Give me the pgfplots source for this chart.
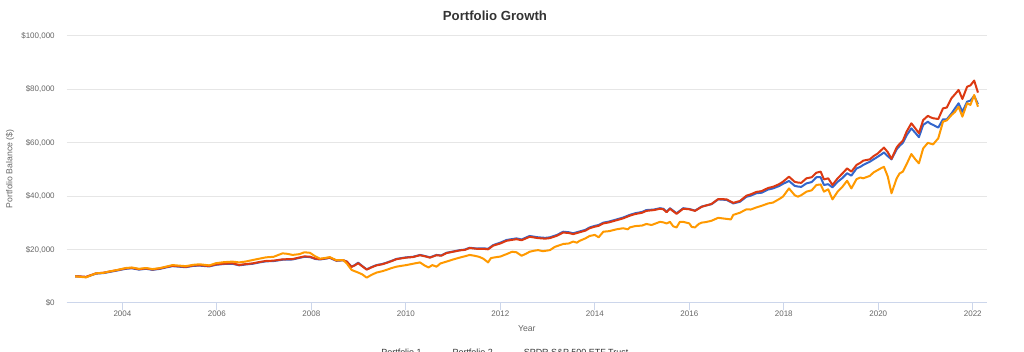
\documentclass[border=0pt]{standalone}
\usepackage{pgfplots}
\pgfplotsset{compat=1.18}
\usepackage{pgfplotstable}
\usepackage{fontspec}
\setmainfont{Liberation Sans}
\definecolor{pone}{HTML}{3366CC}
\definecolor{ptwo}{HTML}{DC3912}
\definecolor{spy}{HTML}{FF9900}
\definecolor{gridc}{HTML}{E6E6E6}
\definecolor{axisc}{HTML}{CCD6EB}
\definecolor{labc}{HTML}{666666}
\definecolor{titc}{HTML}{333333}

\pgfplotstableread{
x y
2003.00 10000
2003.10 9900
2003.23 9700
2003.44 11000
2003.60 11200
2003.72 11600
2003.90 12200
2004.07 12800
2004.20 13000
2004.35 12500
2004.50 12800
2004.64 12400
2004.80 12800
2004.92 13300
2005.06 13800
2005.20 13600
2005.34 13400
2005.50 13900
2005.63 14000
2005.84 13700
2005.98 14300
2006.15 14600
2006.33 14700
2006.47 14100
2006.60 14400
2006.76 14700
2006.90 15200
2007.04 15600
2007.20 15700
2007.39 16200
2007.60 16300
2007.75 16900
2007.85 17300
2007.97 17200
2008.08 16500
2008.18 16300
2008.30 16600
2008.39 16900
2008.53 15800
2008.67 16000
2008.75 15500
2008.85 13600
2008.92 14200
2008.99 15100
2009.08 13800
2009.17 12600
2009.28 13500
2009.38 14200
2009.50 14600
2009.59 15100
2009.70 15800
2009.80 16500
2009.90 16800
2010.01 17100
2010.15 17300
2010.30 18000
2010.40 17600
2010.51 17100
2010.65 18000
2010.75 17800
2010.86 18800
2011.00 19300
2011.14 19800
2011.25 20000
2011.35 20700
2011.50 20400
2011.64 20500
2011.74 20300
2011.85 21700
2012.00 22600
2012.13 23600
2012.34 24200
2012.45 23800
2012.62 25100
2012.80 24600
2012.95 24400
2013.05 24600
2013.20 25500
2013.33 26700
2013.45 26500
2013.54 26100
2013.68 26800
2013.80 27400
2013.89 28300
2014.00 28900
2014.08 29200
2014.18 30100
2014.30 30500
2014.46 31300
2014.60 32000
2014.74 33000
2014.85 33600
2015.00 34100
2015.09 34800
2015.25 35000
2015.38 35500
2015.45 35300
2015.52 34200
2015.59 35500
2015.73 33600
2015.87 35500
2016.00 35200
2016.12 34600
2016.26 36100
2016.35 36500
2016.47 37000
2016.61 38800
2016.70 38700
2016.79 38600
2016.93 37300
2017.07 37900
2017.21 39800
2017.30 40200
2017.42 41100
2017.53 41300
2017.67 42500
2017.77 42900
2017.90 43800
2017.98 44600
2018.11 45700
2018.23 43900
2018.30 43600
2018.37 43500
2018.48 44800
2018.59 45300
2018.69 47100
2018.78 47100
2018.85 44200
2018.94 44500
2019.03 43300
2019.14 45400
2019.24 46800
2019.34 48600
2019.43 47700
2019.54 50400
2019.62 51000
2019.68 51700
2019.82 52900
2019.90 53800
2019.99 54800
2020.06 55600
2020.12 56400
2020.20 55000
2020.28 53800
2020.39 57600
2020.45 58800
2020.52 60000
2020.60 62800
2020.70 65400
2020.78 63800
2020.86 62100
2020.95 66700
2021.05 67900
2021.10 67200
2021.16 66700
2021.27 65700
2021.37 68800
2021.45 68800
2021.55 71000
2021.62 72800
2021.70 74800
2021.78 71600
2021.88 75400
2021.95 75800
2022.03 77600
2022.11 74500
}\portone

\pgfplotstableread{
x y
2003.00 10000
2003.10 9950
2003.23 9800
2003.44 11100
2003.60 11350
2003.72 11750
2003.90 12350
2004.07 12950
2004.20 13150
2004.35 12650
2004.50 12950
2004.64 12550
2004.80 12950
2004.92 13450
2005.06 13950
2005.20 13750
2005.34 13550
2005.50 14050
2005.63 14150
2005.84 13850
2005.98 14450
2006.15 14750
2006.33 14850
2006.47 14250
2006.60 14550
2006.76 14850
2006.90 15350
2007.04 15750
2007.20 15850
2007.39 16350
2007.60 16450
2007.75 17050
2007.85 17450
2007.97 17350
2008.08 16650
2008.18 16400
2008.30 16700
2008.39 17000
2008.53 15900
2008.67 16050
2008.75 15500
2008.85 13500
2008.92 14100
2008.99 14900
2009.08 13700
2009.17 12500
2009.28 13400
2009.38 14100
2009.50 14500
2009.59 15000
2009.70 15700
2009.80 16400
2009.90 16700
2010.01 17000
2010.15 17200
2010.30 17900
2010.40 17500
2010.51 17000
2010.65 17900
2010.75 17700
2010.86 18700
2011.00 19200
2011.14 19700
2011.25 19900
2011.35 20600
2011.50 20300
2011.64 20300
2011.74 20100
2011.85 21500
2012.00 22300
2012.13 23300
2012.34 23900
2012.45 23500
2012.62 24800
2012.80 24300
2012.95 24100
2013.05 24300
2013.20 25200
2013.33 26400
2013.45 26200
2013.54 25800
2013.68 26500
2013.80 27100
2013.89 28000
2014.00 28600
2014.08 28900
2014.18 29800
2014.30 30200
2014.46 31000
2014.60 31700
2014.74 32700
2014.85 33300
2015.00 33800
2015.09 34500
2015.25 34800
2015.38 35300
2015.45 35100
2015.52 34000
2015.59 35300
2015.73 33400
2015.87 35300
2016.00 35100
2016.12 34500
2016.26 36000
2016.35 36500
2016.47 37100
2016.61 38900
2016.70 38900
2016.79 38800
2016.93 37500
2017.07 38200
2017.21 40200
2017.30 40700
2017.42 41600
2017.53 41900
2017.67 43100
2017.77 43500
2017.90 44500
2017.98 45400
2018.11 47300
2018.23 45400
2018.30 45100
2018.37 45000
2018.48 46700
2018.59 47100
2018.69 48800
2018.78 49200
2018.85 46300
2018.94 46700
2019.03 44200
2019.14 46700
2019.24 48500
2019.34 50400
2019.43 49200
2019.54 51700
2019.62 52500
2019.68 53300
2019.82 53800
2019.90 55000
2019.99 56000
2020.06 57200
2020.12 58200
2020.20 56500
2020.28 54000
2020.39 58300
2020.45 59600
2020.52 60800
2020.60 64200
2020.70 67300
2020.78 65500
2020.86 63600
2020.95 68500
2021.05 70100
2021.10 69600
2021.16 69200
2021.27 68900
2021.37 72900
2021.45 73200
2021.55 76700
2021.62 78100
2021.70 79800
2021.78 76400
2021.88 81000
2021.95 81500
2022.03 83300
2022.11 78800
}\porttwo

\pgfplotstableread{
x y
2003.00 10000
2003.10 9800
2003.23 9600
2003.44 11100
2003.60 11300
2003.72 11800
2003.90 12400
2004.07 13100
2004.20 13300
2004.35 12800
2004.50 13100
2004.64 12700
2004.80 13100
2004.92 13600
2005.06 14200
2005.20 14000
2005.34 13800
2005.50 14300
2005.63 14500
2005.84 14100
2005.98 14900
2006.15 15300
2006.33 15500
2006.47 15200
2006.60 15500
2006.76 16100
2006.90 16600
2007.04 17100
2007.20 17300
2007.39 18600
2007.50 18400
2007.60 18000
2007.75 18300
2007.85 19000
2007.97 18800
2008.08 17500
2008.18 16600
2008.30 16900
2008.39 17200
2008.53 16000
2008.67 16100
2008.75 14800
2008.85 12400
2008.92 11900
2008.99 11400
2009.08 10700
2009.17 9500
2009.28 10600
2009.38 11400
2009.50 11900
2009.59 12400
2009.70 13100
2009.80 13600
2009.90 13900
2010.01 14200
2010.15 14700
2010.30 15200
2010.40 14000
2010.48 13300
2010.56 14200
2010.65 13600
2010.73 14800
2010.86 15500
2011.00 16300
2011.14 17000
2011.25 17500
2011.35 18000
2011.45 17700
2011.55 17300
2011.64 16600
2011.74 15200
2011.80 16800
2011.85 17000
2012.00 17400
2012.13 18300
2012.25 19200
2012.34 19000
2012.45 17700
2012.55 18500
2012.62 19200
2012.72 19600
2012.80 19800
2012.90 19400
2013.05 19800
2013.15 21000
2013.33 22100
2013.45 22300
2013.54 23000
2013.62 22600
2013.68 23300
2013.80 24200
2013.89 25100
2014.00 25500
2014.08 24600
2014.18 26700
2014.30 26900
2014.46 27600
2014.60 28000
2014.70 27600
2014.74 28300
2014.85 28800
2015.00 29000
2015.09 29600
2015.20 29200
2015.38 30400
2015.45 30200
2015.52 29800
2015.59 30400
2015.66 28700
2015.73 28300
2015.80 30400
2015.87 30400
2016.00 29800
2016.05 28500
2016.12 28300
2016.20 29600
2016.26 30100
2016.35 30300
2016.47 30800
2016.61 31900
2016.70 31700
2016.79 31500
2016.88 31300
2016.93 33000
2017.07 33800
2017.21 35100
2017.30 35000
2017.42 35800
2017.53 36400
2017.67 37300
2017.77 37600
2017.90 38900
2017.98 39800
2018.11 42900
2018.23 40400
2018.30 39800
2018.37 40400
2018.48 41700
2018.59 42200
2018.69 44200
2018.78 44400
2018.85 41700
2018.94 42600
2019.03 38800
2019.14 41700
2019.24 43500
2019.34 45800
2019.43 42900
2019.54 46400
2019.62 47000
2019.68 46700
2019.82 47600
2019.90 48900
2019.99 49800
2020.06 50500
2020.12 51000
2020.20 47400
2020.28 41100
2020.39 46700
2020.45 48500
2020.52 49200
2020.60 52000
2020.70 55800
2020.78 53900
2020.86 52300
2020.95 57900
2021.05 60000
2021.10 59700
2021.16 59400
2021.27 61700
2021.37 67900
2021.45 68400
2021.55 70400
2021.62 71500
2021.70 73500
2021.78 69800
2021.88 74800
2021.95 74200
2022.03 77900
2022.11 73500
}\spytab

\begin{document}
\begin{tikzpicture}
\begin{axis}[
  at={(0pt,0pt)}, anchor=south west,
  scale only axis,
  width=690.2pt, height=200.25pt,
  xmin=2002.82, xmax=2022.30,
  ymin=0, ymax=100000,
  axis x line*=bottom, axis y line*=left,
  x axis line style={-, draw=axisc, line width=0.75pt},
  y axis line style={draw=none},
  xtick={2004,2006,2008,2010,2012,2014,2016,2018,2020,2022},
  xticklabels={2004,2006,2008,2010,2012,2014,2016,2018,2020,2022},
  ytick={0,20000,40000,60000,80000,100000},
  yticklabels={\$0,{\$20,000},{\$40,000},{\$60,000},{\$80,000},{\$100,000}},
  scaled y ticks=false,
  tick align=outside,
  major tick length=5.2pt,
  xtick style={draw=axisc, line width=0.75pt},
  ytick style={draw=none},
  ymajorgrids,
  grid style={draw=gridc, line width=0.75pt},
  xticklabel style={font=\fontsize{6}{7}\selectfont, text=labc, anchor=center, inner sep=0pt, yshift=-3.05pt},
  yticklabel style={font=\fontsize{6}{7}\selectfont, text=labc, anchor=east, inner sep=0pt, xshift=-3.6pt},
  xlabel={Year},
  xlabel style={font=\fontsize{6.5}{7.5}\selectfont, text=labc, at={(axis description cs:0.5,-0.0964)}, anchor=center, inner sep=0pt},
  ylabel={Portfolio Balance (\$)},
  ylabel style={font=\fontsize{6.5}{7.5}\selectfont, text=labc, at={(axis description cs:-0.0616,0.5019)}, anchor=center, rotate=0, inner sep=0pt},
  title={Portfolio Growth},
  title style={font=\bfseries\fontsize{9.9}{11}\selectfont, text=titc, at={(axis description cs:0.4654,1.0767)}, anchor=center, inner sep=0pt, yshift=-6pt},
  legend columns=3,
  legend style={draw=none, fill=none, font=\fontsize{6.7}{8}\selectfont, text=titc,
    at={(axis description cs:0.4685,-0.187)}, anchor=center,
    /tikz/every even column/.append style={column sep=8.75pt}},
  legend image code/.code={\draw[#1, line width=1.5pt] (0pt,0pt) -- (9pt,0pt);},
  every axis plot/.append style={line width=1.5pt, line join=round, mark=none},
]
\addplot[pone] table[x=x,y=y] {\portone};
\addlegendentry{Portfolio 1}
\addplot[ptwo] table[x=x,y=y] {\porttwo};
\addlegendentry{Portfolio 2}
\addplot[spy] table[x=x,y=y] {\spytab};
\addlegendentry{SPDR S\&P 500 ETF Trust}
\end{axis}
\pgfresetboundingbox
\useasboundingbox (-50pt,-36.75pt) rectangle (718pt,227.25pt);
\end{tikzpicture}
\end{document}
